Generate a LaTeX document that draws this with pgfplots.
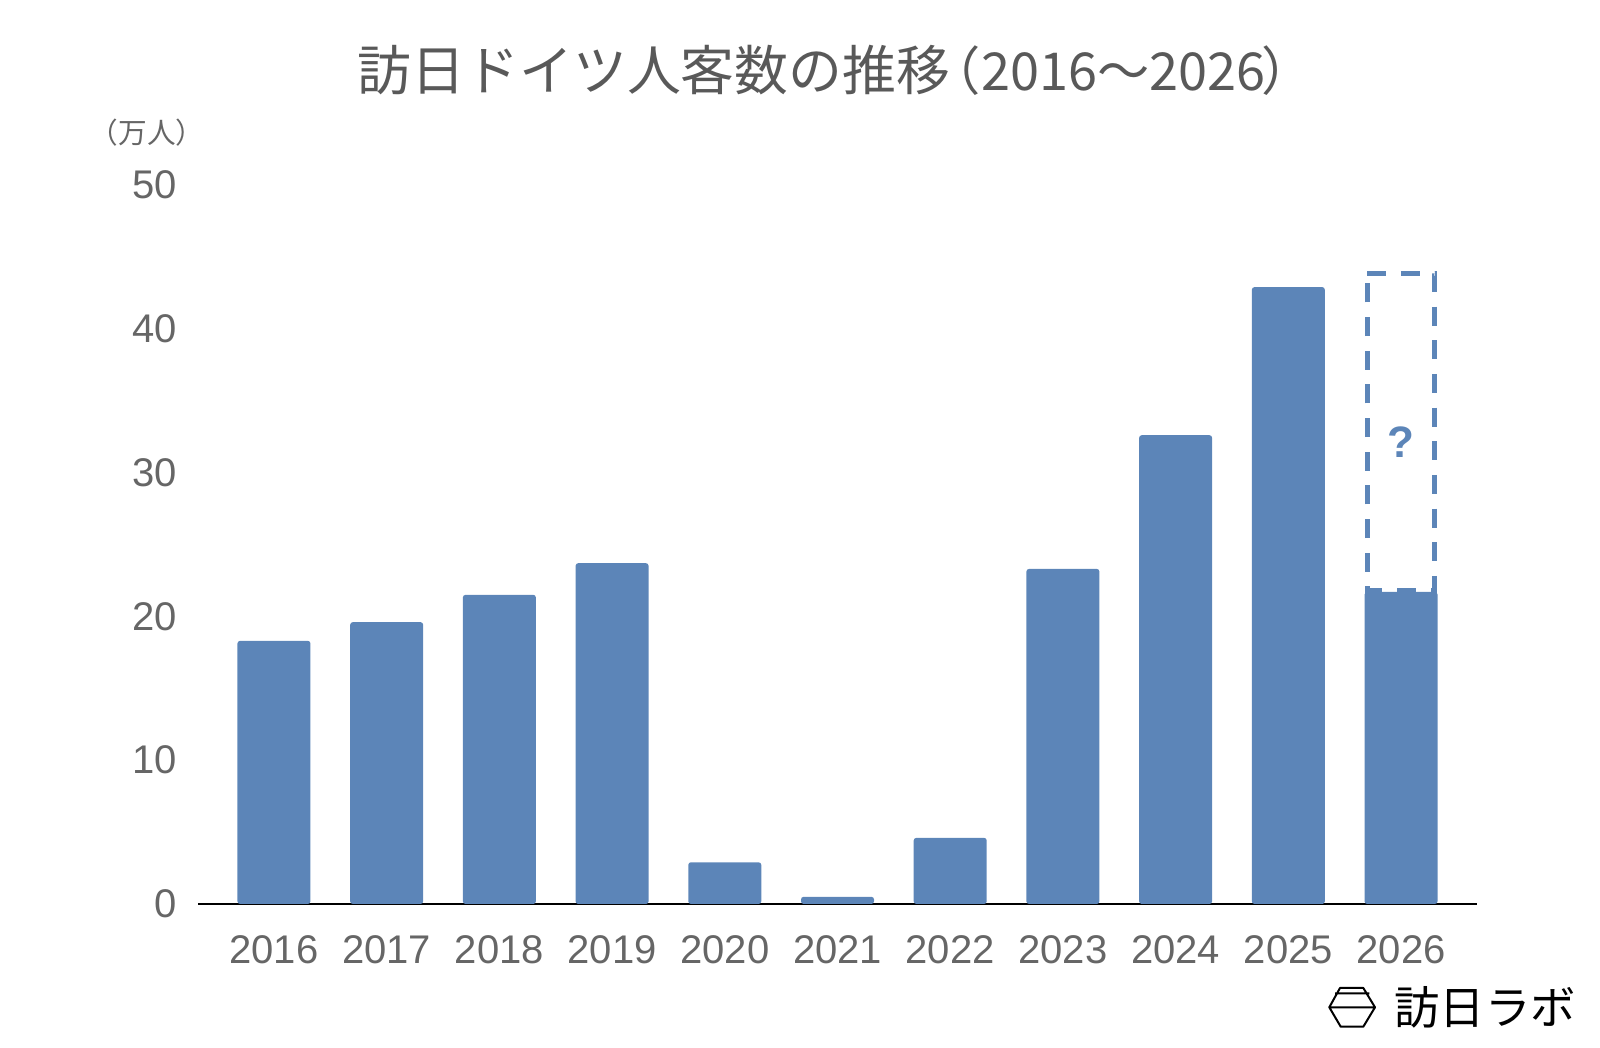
\documentclass[border=0pt]{standalone}
\usepackage{fontspec}
\usepackage{pgfplots}
\pgfplotsset{compat=1.18}
\setmainfont{Liberation Sans}
\newfontfamily\cjk{Noto Sans CJK JP}
\definecolor{barblue}{HTML}{5C85B8}
\definecolor{tickgrey}{HTML}{666666}
\definecolor{titlegrey}{HTML}{595959}
\begin{document}
\begin{tikzpicture}[x=0.75pt,y=0.75pt]
\path[use as bounding box] (0,0) rectangle (1600,1048);
\begin{axis}[
  at={(148.5pt,108pt)}, anchor=south west,
  scale only axis, width=959.25pt, height=539.25pt,
  xmin=-0.674, xmax=10.674, ymin=0, ymax=50,
  axis lines=left, axis line style={-},
  separate axis lines,
  y axis line style={draw=none},
  x axis line style={draw=black,line width=1.5pt},
  major tick length=0pt,
  xtick={0,1,2,3,4,5,6,7,8,9,10},
  xticklabels={2016,2017,2018,2019,2020,2021,2022,2023,2024,2025,2026},
  ytick={0,10,20,30,40,50},
  /pgf/number format/assume math mode=true,
  tick label style={font=\fontsize{30}{30}\selectfont, text=tickgrey},
  yticklabel style={xshift=-12.5pt},
  xticklabel style={yshift=-20pt},
  clip=false,
]
\addplot[ybar, bar width=54.75pt, bar shift=0pt, fill=barblue, draw=none, rounded corners=2pt]
  coordinates {(0,18.3)(1,19.6)(2,21.5)(3,23.7)(4,2.9)(5,0.5)(6,4.6)(7,23.3)(8,32.6)(9,42.9)(10,21.7)};
\addplot[barblue, line width=3.6pt, no marks, dash pattern=on 14.25pt off 11pt]
  coordinates {(9.70,43.87)(10.30,43.87)(10.30,21.8)(9.70,21.8)(9.70,43.87)};
\node[text=barblue, font=\bfseries\fontsize{33}{33}\selectfont] at (axis cs:10,32.1) {?};
\end{axis}
% title
\node[text=titlegrey, font=\cjk\fontsize{40.4}{41}\selectfont, anchor=west] at (353,978)
  {訪日ドイツ人客数の推移\hspace{-16pt}{\fontsize{39.2}{41}\selectfont （2016～2026\hspace{-3pt}）}};
% unit
\node[text=tickgrey, font=\cjk\fontsize{21.5}{22}\selectfont, anchor=center] at (147,915) {（万人）};
% logo
\node[text=black, font=\cjk\fontsize{34}{34}\selectfont, anchor=center] at (1485,41) {訪日ラボ};
\draw[black, line width=1.5pt, line join=round]
  (1329.3,40.7) -- (1340,60) -- (1363.3,60) -- (1375,40.7) -- (1363.3,21.3) -- (1340.7,21.3) -- cycle
  (1329.3,40.7) -- (1375,40.7)
  (1335,54.7) -- (1369.3,54.7);
\end{tikzpicture}
\end{document}
